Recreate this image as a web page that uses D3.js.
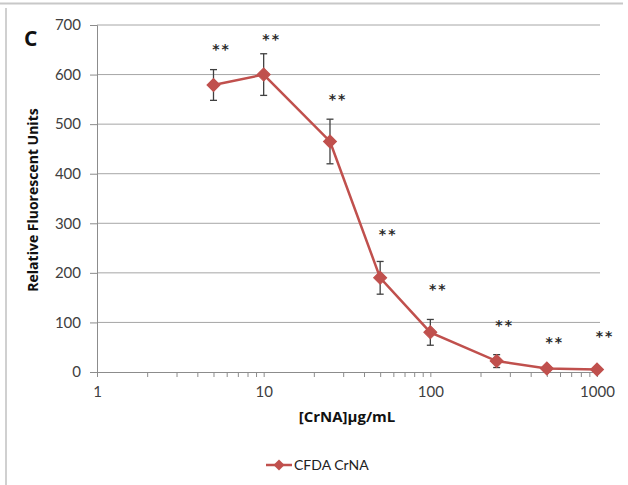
<!DOCTYPE html>
<html><head><meta charset="utf-8">
<script src="https://cdn.jsdelivr.net/npm/d3@7"></script>
<style>
html,body{margin:0;padding:0;background:#fff;}
svg{display:block;font-family:Lato,"Open Sans",sans-serif;}
</style></head>
<body>
<svg id="chart" width="628" height="485"></svg>
<script>
// Data
const concentrations = [5, 10, 25, 50, 100, 250, 500, 1000];
const rfu = [579, 600, 465, 190, 80, 22, 7, 5];
const rfuError = [31, 42, 45, 33, 26, 13, 0, 0];
const starLabelY = [655, 675, 555, 282, 171, 99, 65, 77];
const starLabel = "**";
const yTicks = [0, 100, 200, 300, 400, 500, 600, 700];
const xTicks = [1, 10, 100, 1000];
const seriesName = "CFDA CrNA";
const xTitle = "[CrNA]\u03bcg/mL";
const yTitle = "Relative Fluorescent Units";
const panelLabel = "C";

const svg = d3.select("#chart");
const red = "#c0504d";

// frame lines
svg.append("line").attr("x1",0).attr("x2",623).attr("y1",3.5).attr("y2",3.5).attr("stroke","#c8c8c8").attr("stroke-width",2);
svg.append("line").attr("x1",6).attr("x2",6).attr("y1",8).attr("y2",485).attr("stroke","#d0d0d0").attr("stroke-width",2);

const x = d3.scaleLog().domain([1,1000]).range([97,597]);
const y = d3.scaleLinear().domain([0,700]).range([372,25]);

// gridlines
svg.append("g").selectAll("line").data(yTicks.filter(d=>d>0)).join("line")
  .attr("x1",97).attr("x2",600).attr("y1",d=>y(d)).attr("y2",d=>y(d))
  .attr("stroke","#a6a6a6").attr("stroke-width",1);

// y axis
const yAxis = svg.append("g").attr("transform","translate(97,0)")
  .call(d3.axisLeft(y).tickValues(yTicks).tickSize(7).tickPadding(9));
yAxis.select(".domain").attr("stroke","#8c8c8c");
yAxis.selectAll(".tick line").attr("stroke","#8c8c8c");
yAxis.selectAll("text").attr("font-size",15).attr("fill","#404040").attr("font-family","Lato, 'Open Sans', sans-serif");

// x axis
const minor = [];
for (let d=1; d<1000; d*=10) for (let k=1;k<10;k++) minor.push(d*k);
minor.push(1000);
const xAxis = svg.append("g").attr("transform",`translate(0,${y(0)})`)
  .call(d3.axisBottom(x).tickValues(minor).tickSize(5).tickFormat(d=>xTicks.includes(d)?d3.format("d")(d):"").tickPadding(9));
xAxis.select(".domain").attr("stroke","#8c8c8c").attr("d",`M97,0.5H600`);
xAxis.selectAll(".tick line").attr("stroke","#8c8c8c");
xAxis.selectAll("text").attr("font-size",15).attr("fill","#404040").attr("font-family","Lato, 'Open Sans', sans-serif");

// error bars
const eb = svg.append("g").attr("stroke","#404040").attr("stroke-width",1.3);
concentrations.forEach((c,i)=>{
  if(!rfuError[i]) return;
  const cx = x(c), t = y(rfu[i]+rfuError[i]), b = y(rfu[i]-rfuError[i]);
  eb.append("line").attr("x1",cx).attr("x2",cx).attr("y1",t).attr("y2",b);
  eb.append("line").attr("x1",cx-3.5).attr("x2",cx+3.5).attr("y1",t).attr("y2",t);
  eb.append("line").attr("x1",cx-3.5).attr("x2",cx+3.5).attr("y1",b).attr("y2",b);
});

// line
const line = d3.line().x((d,i)=>x(concentrations[i])).y(d=>y(d));
svg.append("path").datum(rfu).attr("d",line).attr("fill","none").attr("stroke",red).attr("stroke-width",2.5);

// markers
svg.append("g").selectAll("path").data(rfu).join("path")
  .attr("transform",(d,i)=>`translate(${x(concentrations[i])},${y(d)}) rotate(45)`)
  .attr("d", d3.symbol().type(d3.symbolSquare).size(85))
  .attr("fill",red).attr("stroke",red).attr("stroke-width",1);

// stars
svg.append("g").selectAll("text").data(starLabelY).join("text")
  .attr("x",(d,i)=>x(concentrations[i])+8).attr("y",d=>y(d)+7)
  .attr("text-anchor","middle").attr("font-size",14).attr("font-weight","bold").attr("font-family","'DejaVu Sans', sans-serif")
  .attr("fill","#2a2a2a").attr("letter-spacing","2px").text(starLabel);

// panel label
svg.append("text").attr("x",24).attr("y",46).attr("font-size",21).attr("font-weight","bold").attr("font-family","'Open Sans', sans-serif").attr("fill","#111").text(panelLabel);

// axis titles
svg.append("text").attr("x",347).attr("y",422).attr("text-anchor","middle").attr("font-size",15).attr("font-weight","bold").attr("font-family","'Open Sans', sans-serif").attr("fill","#111").text(xTitle);
svg.append("text").attr("transform","translate(38,200) rotate(-90)").attr("text-anchor","middle").attr("font-size",14).attr("font-weight","bold").attr("font-family","'Open Sans', sans-serif").attr("fill","#111").text(yTitle);

// legend
const lg = svg.append("g");
lg.append("line").attr("x1",266).attr("x2",292).attr("y1",465).attr("y2",465).attr("stroke",red).attr("stroke-width",2.5);
lg.append("path").attr("transform","translate(279,465) rotate(45)").attr("d",d3.symbol().type(d3.symbolSquare).size(60)).attr("fill",red);
lg.append("text").attr("x",294).attr("y",470).attr("font-size",14).attr("fill","#222").text(seriesName);
</script>
</body></html>
